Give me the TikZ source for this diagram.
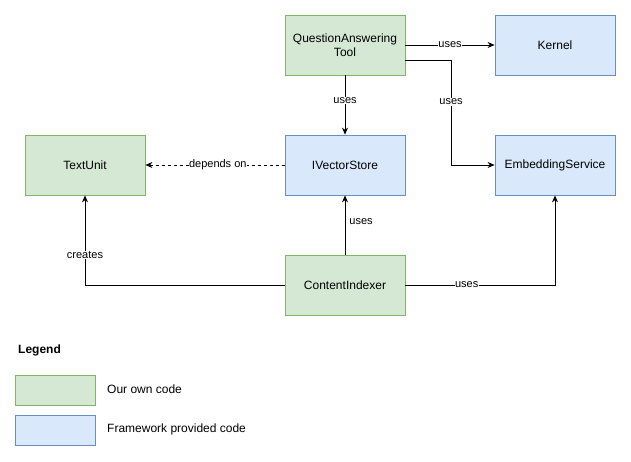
\documentclass[tikz,border=0pt]{standalone}
\usepackage{fontspec}
\setmainfont{Liberation Sans}
\usetikzlibrary{arrows.meta}
\definecolor{gfill}{HTML}{D5E8D4}
\definecolor{gdraw}{HTML}{82B366}
\definecolor{bfill}{HTML}{DAE8FC}
\definecolor{bdraw}{HTML}{6C8EBF}
\tikzset{
  box/.style={draw, line width=0.8pt, minimum width=120pt, minimum height=60pt, inner sep=0pt, align=center, font=\fontsize{12pt}{14pt}\selectfont},
  ours/.style={box, fill=gfill, draw=gdraw},
  fw/.style={box, fill=bfill, draw=bdraw},
  legbox/.style={draw, line width=0.8pt, minimum width=80pt, minimum height=30pt, inner sep=0pt},
  conn/.style={line width=0.8pt, -{Stealth[length=7pt,width=6pt]}},
  lbl/.style={fill=white, inner sep=0.5pt, font=\fontsize{11pt}{13pt}\selectfont},
  lbltxt/.style={inner sep=0pt, font=\fontsize{11pt}{13pt}\selectfont},
  legtxt/.style={anchor=west, inner sep=0pt, font=\fontsize{12pt}{14pt}\selectfont}
}
\begin{document}
\begin{tikzpicture}[x=1pt,y=-1pt]
\useasboundingbox (0,0) rectangle (631,461);
\node[ours] (qat) at (345,45) {QuestionAnswering\\Tool};
\node[fw] (kernel) at (555,45) {Kernel};
\node[ours] (tu) at (85,165) {TextUnit};
\node[fw] (ivs) at (345,165) {IVectorStore};
\node[fw] (emb) at (555,165) {EmbeddingService};
\node[ours] (ci) at (345,285) {ContentIndexer};

\coordinate (qe) at (405,60);
\coordinate (qbend) at (451,60);
\coordinate (ebend) at (451,165);
\coordinate (cbend) at (85,285);
\coordinate (cebend) at (555,285);

\draw[conn] (qat.east |- kernel.west) -- node[lbl] {uses} (kernel.west);
\draw[conn] (qe) -- (qbend) -- node[lbl, pos=0.4] {uses} (ebend) -- (emb.west);
\draw[conn] (qat.south) -- node[lbl, pos=0.43] {uses} (ivs.north);
\draw[conn, dashed, dash pattern=on 3pt off 3pt] (ivs.west) -- node[lbl, pos=0.48] {depends on} (tu.east);
\draw[conn] (ci.west) -- (cbend) -- node[lbl, pos=0.333] {creates} (tu.south);
\draw[conn] (ci.north) -- node[lbltxt, anchor=west, xshift=4pt, pos=0.55] {uses} (ivs.south);
\draw[conn] (ci.east) -- node[lbl, pos=0.41] {uses} (cebend) -- (emb.south);

\node[anchor=west, inner sep=0pt, font=\bfseries\fontsize{12pt}{14pt}\selectfont] (leg) at (18,350) {Legend};
\node[legbox, fill=gfill, draw=gdraw] (lg) at (55,390) {};
\node[legbox, fill=bfill, draw=bdraw] (lb) at (55,430) {};
\node[legtxt] (lgt) at (107,389.5) {Our own code};
\node[legtxt] (lbt) at (107,429.5) {Framework provided code};
\end{tikzpicture}
\end{document}
